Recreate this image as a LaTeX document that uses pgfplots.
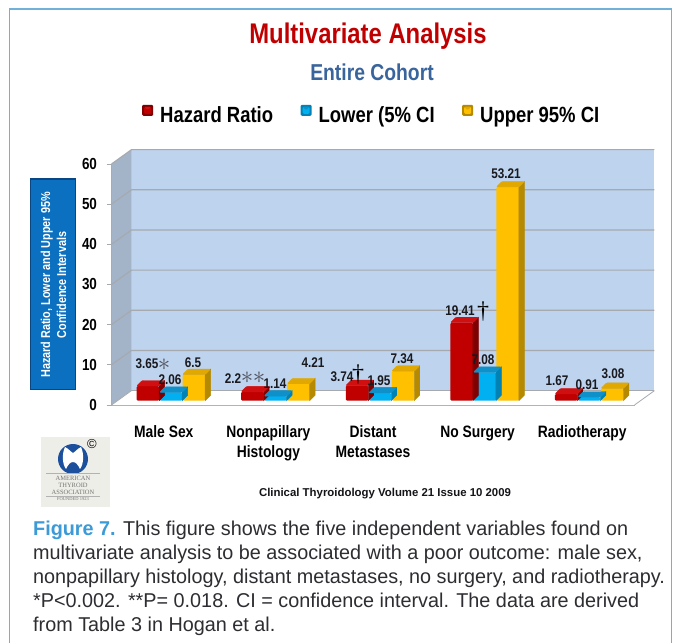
\documentclass[border=0pt]{standalone}
\usepackage{fontspec}
\setmainfont{Liberation Sans}
\newfontfamily\nf[FakeStretch=0.84]{Liberation Sans}
\newfontfamily\cf[FakeStretch=0.99]{Liberation Sans}
\newfontfamily\lf{Liberation Serif}
\usepackage{pgfplots}
\usepackage{pgfplotstable}
\pgfplotsset{compat=1.18}
\definecolor{wallblue}{HTML}{BDD3EE}
\definecolor{wallside}{HTML}{A3B3C8}
\definecolor{gridc}{HTML}{A6A9AE}
\definecolor{fr}{HTML}{C00000}\definecolor{sr}{HTML}{7E0000}\definecolor{tr}{HTML}{D01010}
\definecolor{fb}{HTML}{00B0F0}\definecolor{sb}{HTML}{0082B4}\definecolor{tb}{HTML}{1090C8}
\definecolor{fy}{HTML}{FFC000}\definecolor{sy}{HTML}{B58A00}\definecolor{ty}{HTML}{E0A800}
\definecolor{framec}{HTML}{6FB1D8}
\pgfdeclareplotmark{emptymark}{}
\pgfplotstableread{
x hr lo up
0 3.65 2.06 6.5
1 2.2 1.14 4.21
2 3.74 1.95 7.34
3 19.41 7.08 53.21
4 1.67 0.91 3.08
}\datatab
\pgfplotsset{
  face3d/.style 2 args={forget plot, only marks, scatter, mark=emptymark,
    visualization depends on={rawy \as \bv},
    scatter/@pre marker code/.code={%
      \pgfmathsetmacro\hh{\bv*4.0167}%
      \pgfmathsetmacro\topy{5.5-\hh}%
      \pgfmathsetmacro\boty{-\hh}%
      \fill[#1] (11.25pt,0pt) -- (16.75pt,5.5pt) -- (16.75pt,\topy pt) -- (11.25pt,\boty pt) -- cycle;
      \fill[#2,rounded corners=1pt] (-11.25pt,0pt) -- (-5.75pt,5.5pt) -- (16.75pt,5.5pt) -- (11.25pt,0pt) -- cycle;
    },
    scatter/@post marker code/.code={}},
  front/.style n args={4}{ybar, bar width=22.5pt, bar shift=#2, yshift=4.3pt, xshift=0pt,
    draw=none, fill=#1, rounded corners=1.2pt,
    legend image code/.code={%
      \fill[#3] (0pt,-5pt) rectangle (11pt,6pt);
      \fill[#1] (2pt,-3pt) rectangle (9pt,4pt);
      \fill[#4] (2pt,4pt) -- (9pt,4pt) -- (5.5pt,0.5pt) -- cycle;
    }},
}
\begin{document}
\begin{tikzpicture}
\path[use as bounding box] (0,0) rectangle (674pt,643pt);
\fill[white] (0,0) rectangle (674pt,643pt);
\draw[framec,line width=1.3pt] (9.5pt,0pt) -- (9.5pt,634pt) -- (671.5pt,634pt) -- (671.5pt,0pt);
\begin{axis}[
  at={(111.5pt,238pt)}, anchor=south west,
  scale only axis, width=523pt, height=241pt,
  xmin=-0.5, xmax=4.5, ymin=0, ymax=60, clip=false,
  axis x line=bottom, axis y line=left,
  axis line style={draw=gridc,line width=1pt,-},
  xtick={0,1,2,3,4},
  xticklabels={Male Sex,Nonpapillary\\Histology,Distant\\Metastases,No Surgery,Radiotherapy},
  extra x ticks={-0.5,0.5,1.5,2.5,3.5,4.5},
  extra x tick labels={},
  extra x tick style={major tick length=6pt,tick style={draw=gridc,line width=0.8pt}},
  major x tick style={draw=none},
  xticklabel style={align=center,font=\nf\bfseries\fontsize{16.5}{20}\selectfont,anchor=north,yshift=-12pt},
  ytick={0,10,20,30,40,50,60},
  yticklabel style={font=\nf\bfseries\fontsize{16}{18}\selectfont,xshift=-6pt},
  /pgf/number format/assume math mode=true,
  tick style={draw=gridc,line width=0.8pt},
  major tick length=5pt,
  tick align=outside,
  legend columns=3,
  legend style={at={(0.0583,1.203)},anchor=west,draw=none,fill=none,inner sep=0pt,
    font=\nf\bfseries\fontsize{22}{24}\selectfont,
    /tikz/every even column/.append style={column sep=25.5pt},
    /tikz/every odd column/.append style={column sep=5pt}},
]
% walls
\addplot[forget plot,fill=wallblue,draw=none] coordinates {(-0.309,3.58)(4.691,3.58)(4.691,63.58)(-0.309,63.58)} -- cycle;
\addplot[forget plot,fill=wallside,draw=none] coordinates {(-0.5,0)(-0.309,3.58)(-0.309,63.58)(-0.5,60)} -- cycle;
\addplot[forget plot,fill=white,draw=none] coordinates {(-0.5,0)(4.5,0)(4.691,3.58)(-0.309,3.58)} -- cycle;
\addplot[forget plot,draw=gridc,line width=0.8pt] coordinates {(4.5,0)(4.691,3.58)};
\addplot[forget plot,draw=gridc,line width=0.8pt] coordinates {(-0.309,3.58)(4.691,3.58)};
\addplot[forget plot,draw=gridc,line width=1.1pt] coordinates {(-0.5,10)(-0.309,13.58)(4.691,13.58)};
\addplot[forget plot,draw=gridc,line width=1.1pt] coordinates {(-0.5,20)(-0.309,23.58)(4.691,23.58)};
\addplot[forget plot,draw=gridc,line width=1.1pt] coordinates {(-0.5,30)(-0.309,33.58)(4.691,33.58)};
\addplot[forget plot,draw=gridc,line width=1.1pt] coordinates {(-0.5,40)(-0.309,43.58)(4.691,43.58)};
\addplot[forget plot,draw=gridc,line width=1.1pt] coordinates {(-0.5,50)(-0.309,53.58)(4.691,53.58)};
\addplot[forget plot,draw=gridc,line width=1.1pt] coordinates {(-0.5,60)(-0.309,63.58)(4.691,63.58)};
\addplot[forget plot,draw=gridc,line width=0.8pt] coordinates {(-0.5,0)(-0.309,3.58)};
% bars
\addplot[face3d={sr}{tr},xshift=-16pt,yshift=4.3pt] table[x=x,y=hr] {\datatab};
\addplot[front={fr}{-16pt}{sr}{tr}] table[x=x,y=hr] {\datatab};
\addplot[face3d={sb}{tb},xshift=7pt,yshift=4.3pt] table[x=x,y=lo] {\datatab};
\addplot[front={fb}{7pt}{sb}{tb}] table[x=x,y=lo] {\datatab};
\addplot[face3d={sy}{ty},xshift=30pt,yshift=4.3pt] table[x=x,y=up] {\datatab};
\addplot[front={fy}{30pt}{sy}{ty}] table[x=x,y=up] {\datatab};
\legend{Hazard Ratio,Lower (5\% CI,Upper 95\% CI}
\end{axis}
\begin{scope}[x=1pt,y=-1pt,yshift=643pt]
\node[font=\nf\bfseries\fontsize{28.4}{30}\selectfont,text=fr] at (368,36.5) {Multivariate Analysis};
\node[font=\nf\bfseries\fontsize{23}{25}\selectfont,text={rgb,255:red,58;green,101;blue,156}] at (372,72) {Entire Cohort};
% y label box
\fill[fill={rgb,255:red,10;green,70;blue,130}] (30,178) rectangle (76,390);
\fill[fill={rgb,255:red,11;green,112;blue,192}] (31,180) rectangle (75,389);
\node[rotate=90,align=center,text=white,font=\nf\bfseries\fontsize{12.9}{16}\selectfont] at (53.5,285) {Hazard Ratio, Lower and Upper 95\%\\Confidence Intervals};
% value labels
\tikzset{vl/.style={font=\nf\bfseries\fontsize{14}{16}\selectfont,text={rgb,255:red,25;green,25;blue,30},inner sep=0pt}}
\node[vl] at (147,364) {3.65};
\node[vl] at (170,380) {2.06};
\node[vl] at (193,363) {6.5};
\node[vl] at (233,379) {2.2};
\node[vl] at (275,384) {1.14};
\node[vl] at (313,363) {4.21};
\node[vl] at (342,377) {3.74};
\node[vl] at (379,381) {1.95};
\node[vl] at (402,359) {7.34};
\node[vl] at (460,311) {19.41};
\node[vl] at (483,360) {7.08};
\node[vl] at (506,174) {53.21};
\node[vl] at (557,381) {1.67};
\node[vl] at (587,385) {0.91};
\node[vl] at (613,374) {3.08};
\tikzset{starl/.style={text={rgb,255:red,80;green,80;blue,90},inner sep=0pt,font=\fontsize{28}{28}\selectfont}}
\node[starl] at (164,365) {$\ast$};
\node[starl] at (247,378) {$\ast$};
\node[starl] at (259,378) {$\ast$};
\node[font=\lf\fontsize{24}{24}\selectfont,inner sep=0pt] at (358,375) {†};
\node[font=\lf\fontsize{24}{24}\selectfont,inner sep=0pt] at (483,312) {†};
% footer
\node[font=\bfseries\fontsize{11.4}{12}\selectfont,text={rgb,255:red,20;green,20;blue,25}] at (385,494) {Clinical Thyroidology Volume 21 Issue 10 2009};
% logo
\fill[fill={rgb,255:red,238;green,238;blue,232}] (41,437) rectangle (110,507);
\fill[fill={rgb,255:red,28;green,79;blue,156}] (73,459) circle (15);
\fill[white] (65,447) .. controls (69,449) and (71,452) .. (73,453) .. controls (75,452) and (77,449) .. (81,447) .. controls (84,453) and (84,464) .. (80,469) .. controls (78,465) and (76,462) .. (73,462) .. controls (70,462) and (68,465) .. (66,469) .. controls (62,464) and (62,453) .. (65,447) -- cycle;
\node[font=\fontsize{13}{13}\selectfont,inner sep=0pt] at (92,444) {©};
\draw[gray!60,line width=0.4pt] (46,473) -- (100,473);
\node[font=\lf\fontsize{6.5}{7}\selectfont,text=gray!90!black,inner sep=0pt] at (73,478) {AMERICAN};
\node[font=\lf\fontsize{6.5}{7}\selectfont,text=gray!90!black,inner sep=0pt] at (73,485) {THYROID};
\node[font=\lf\fontsize{6.5}{7}\selectfont,text=gray!90!black,inner sep=0pt] at (73,492) {ASSOCIATION};
\node[font=\lf\fontsize{4.5}{5}\selectfont,text=gray!90!black,inner sep=0pt] at (73,499.5) {FOUNDED 1923};
\draw[gray!60,line width=0.4pt] (46,496) -- (100,496);
% caption
\tikzset{captl/.style={anchor=base west,inner sep=0pt,font=\cf\fontsize{20}{22}\selectfont,text={rgb,255:red,45;green,45;blue,50}}}
\node[captl] at (33,535) {{\bfseries\color[HTML]{3C9AD6}Figure 7.} This figure shows the five independent variables found on};
\node[captl] at (33,559) {multivariate analysis to be associated with a poor outcome: male sex,};
\node[captl] at (33,583) {nonpapillary histology, distant metastases, no surgery, and radiotherapy.};
\node[captl] at (33,607) {*P<0.002. **P= 0.018. CI = confidence interval. The data are derived};
\node[captl] at (33,631) {from Table 3 in Hogan et al.};
\end{scope}
\end{tikzpicture}
\end{document}
